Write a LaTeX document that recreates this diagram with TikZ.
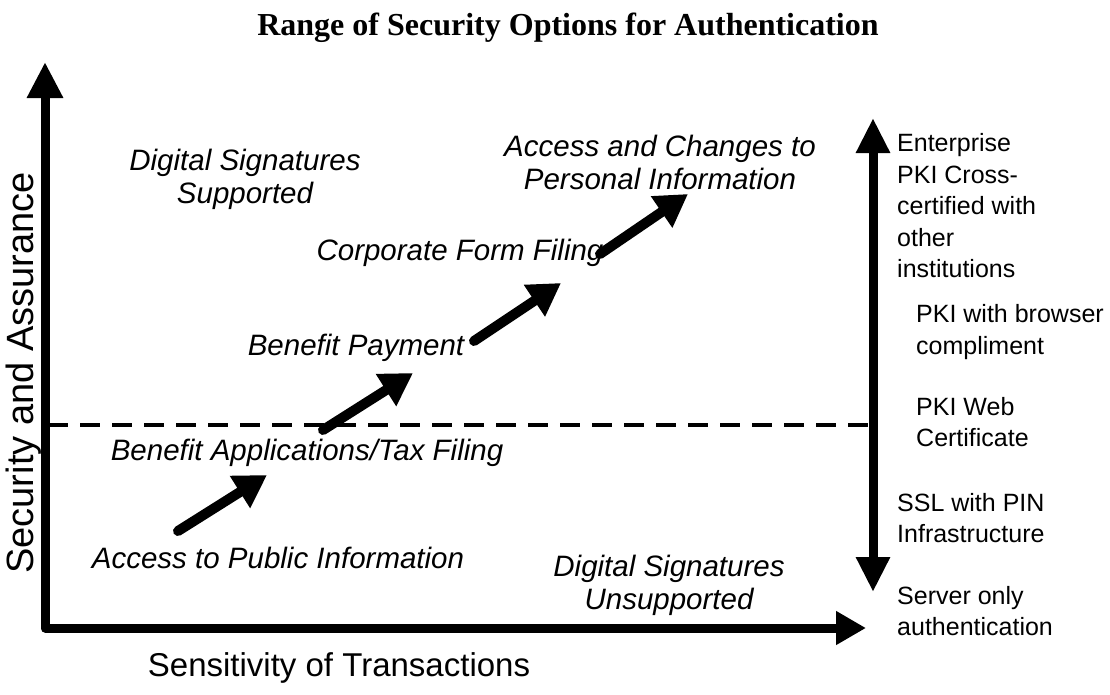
\documentclass[tikz,border=0pt]{standalone}
\usepackage{fontspec}
\setmainfont{Liberation Serif}
\newfontfamily\arial{Liberation Sans}
\usetikzlibrary{arrows.meta}
\tikzset{
  titletext/.style={font=\bfseries\fontsize{32}{36}\selectfont},
  axistext/.style={font=\arial\fontsize{33}{38}\selectfont},
  usecase/.style={font=\arial\itshape\fontsize{29.5}{33}\selectfont, align=center, inner sep=0pt},
  level/.style={font=\arial\fontsize{25}{31.5}\selectfont, align=left, anchor=west, inner sep=0pt},
  axisline/.style={line width=9pt, line join=round,
    {Triangle[length=36pt,width=34pt]}-{Triangle[length=30pt,width=32pt]}},
  scaleline/.style={line width=9pt,
    {Triangle[length=35pt,width=32pt]}-{Triangle[length=35pt,width=32pt]}},
  steparrow/.style={line width=10pt, line cap=round,
    -{Triangle[length=32pt,width=36pt]}},
  threshold/.style={line width=4pt, dash pattern=on 20pt off 12pt}
}
\begin{document}
\begin{tikzpicture}[x=1pt,y=-1pt]
\useasboundingbox (0,0) rectangle (1110,694);

% title
\node[titletext] (title) at (568,28) {Range of Security Options for Authentication};

% axes
\coordinate (ytop) at (45,62);
\coordinate (origin) at (45,628);
\coordinate (xend) at (866,628);
\draw[axisline] (ytop) -- (origin) -- (xend);
\node[axistext, font=\arial\fontsize{38}{42}\selectfont, rotate=90] (ylabel) at (24,373) {Security and Assurance};
\node[axistext] (xlabel) at (339,668) {Sensitivity of Transactions};

% threshold line
\coordinate (dashL) at (48,425);
\coordinate (dashR) at (868,425);
\draw[threshold] (dashL) -- (dashR);

% security scale
\coordinate (scaletop) at (873,118);
\coordinate (scalebot) at (873,592);
\draw[scaleline] (scaletop) -- (scalebot);

\node[level] (l1) at (897,206) {Enterprise\\PKI Cross-\\certified with\\other\\institutions};
\node[level] (l2) at (916,332) {PKI with browser\\compliment};
\node[level] (l3) at (916,422) {PKI Web\\Certificate};
\node[level] (l4) at (897,518) {SSL with PIN\\Infrastructure};
\node[level] (l5) at (897,611) {Server only\\authentication};

% transaction types
\node[usecase] (sigyes) at (245,179) {Digital Signatures\\Supported};
\node[usecase] (signo) at (669,585) {Digital Signatures\\Unsupported};
\node[usecase] (t1) at (278,558) {Access to Public Information};
\node[usecase] (t2) at (307,453) {Benefit Applications/Tax Filing};
\node[usecase] (t3) at (356,348) {Benefit Payment};
\node[usecase] (t4) at (460,253) {Corporate Form Filing};
\node[usecase] (t5) at (660,162) {Access and Changes to\\Personal Information};

% progression arrows
\coordinate (a1s) at (178,531); \coordinate (a1e) at (267,475);
\coordinate (a2s) at (323,430); \coordinate (a2e) at (413,373);
\coordinate (a3s) at (474,341); \coordinate (a3e) at (561,283);
\coordinate (a4s) at (600,254); \coordinate (a4e) at (688,194);
\draw[steparrow] (a1s) -- (a1e);
\draw[steparrow] (a2s) -- (a2e);
\draw[steparrow] (a3s) -- (a3e);
\draw[steparrow] (a4s) -- (a4e);
\end{tikzpicture}
\end{document}
